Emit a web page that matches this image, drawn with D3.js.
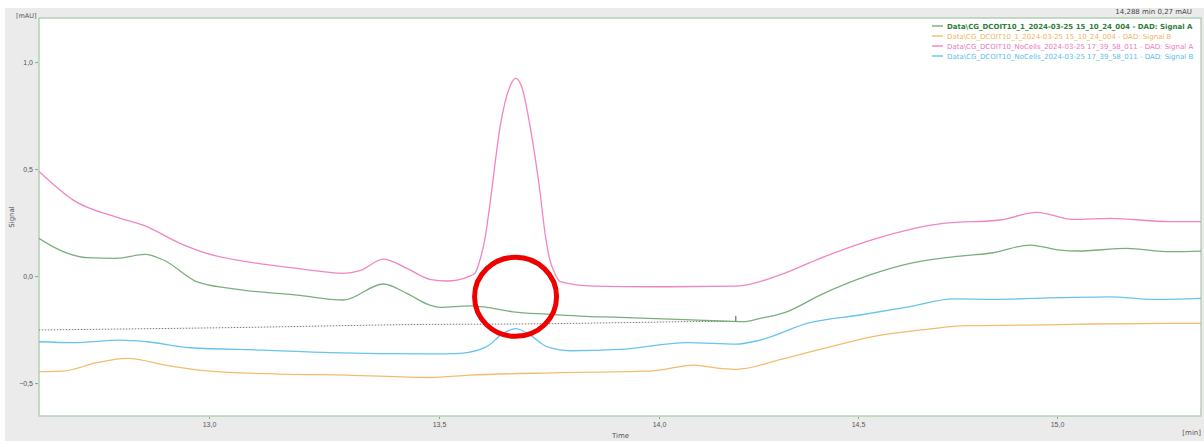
<!DOCTYPE html>
<html>
<head>
<meta charset="utf-8">
<script src="https://cdn.jsdelivr.net/npm/d3@7"></script>
<style>
  body { margin: 0; background: #fff; }
  svg { display: block; font-family: "DejaVu Sans", sans-serif; }
</style>
</head>
<body>
<div id="chart"></div>
<script>
// chromatogram overlay, values (time in min, signal in mAU)
const greenA = [
  [12.630, 0.176], [12.683, 0.114], [12.734, 0.086], [12.799, 0.083], [12.861, 0.101],
  [12.901, 0.075], [12.973, -0.026], [13.046, -0.058], [13.191, -0.089], [13.292, -0.112],
  [13.379, -0.037], [13.430, -0.081], [13.480, -0.136], [13.502, -0.146], [13.570, -0.139],
  [13.608, -0.146], [13.669, -0.167], [13.745, -0.178], [13.820, -0.187], [13.911, -0.193],
  [14.028, -0.201], [14.153, -0.210], [14.212, -0.213], [14.254, -0.198], [14.321, -0.167],
  [14.405, -0.089], [14.530, 0.005], [14.631, 0.059], [14.739, 0.090], [14.840, 0.109],
  [14.932, 0.145], [15.008, 0.121], [15.050, 0.117], [15.175, 0.129], [15.284, 0.114],
  [15.362, 0.117]
];
const orangeB = [
  [12.630, -0.447], [12.683, -0.444], [12.756, -0.405], [12.821, -0.385], [12.915, -0.420],
  [12.995, -0.443], [13.154, -0.458], [13.299, -0.463], [13.480, -0.474], [13.570, -0.463],
  [13.760, -0.452], [13.987, -0.443], [14.086, -0.416], [14.153, -0.431], [14.195, -0.436],
  [14.304, -0.391], [14.405, -0.343], [14.547, -0.280], [14.673, -0.249], [14.773, -0.232],
  [14.924, -0.229], [15.091, -0.224], [15.362, -0.221]
];
const pinkA = [
  [12.630, 0.490], [12.705, 0.355], [12.807, 0.270], [12.857, 0.238], [12.937, 0.153],
  [12.995, 0.106], [13.082, 0.067], [13.191, 0.036], [13.292, 0.013], [13.328, 0.025],
  [13.379, 0.079], [13.430, 0.036], [13.480, -0.015], [13.518, -0.023], [13.570, 0.000],
  [13.582, 0.014], [13.593, 0.075], [13.605, 0.180], [13.616, 0.340], [13.639, 0.700],
  [13.661, 0.885], [13.674, 0.924], [13.688, 0.885], [13.707, 0.700], [13.730, 0.386],
  [13.741, 0.200], [13.752, 0.075], [13.760, 0.028], [13.775, -0.026], [13.851, -0.047],
  [13.987, -0.050], [14.195, -0.047], [14.304, 0.005], [14.405, 0.083], [14.547, 0.176],
  [14.714, 0.246], [14.857, 0.262], [14.949, 0.298], [15.041, 0.265], [15.133, 0.270],
  [15.284, 0.254], [15.362, 0.254]
];
const blueB = [
  [12.630, -0.307], [12.705, -0.311], [12.807, -0.299], [12.865, -0.307], [12.959, -0.335],
  [13.118, -0.346], [13.263, -0.358], [13.480, -0.364], [13.548, -0.361], [13.608, -0.330],
  [13.646, -0.268], [13.674, -0.246], [13.707, -0.276], [13.745, -0.330], [13.798, -0.349],
  [13.911, -0.343], [14.070, -0.311], [14.195, -0.318], [14.254, -0.299], [14.379, -0.218],
  [14.505, -0.182], [14.631, -0.143], [14.739, -0.107], [14.840, -0.109], [15.008, -0.101],
  [15.133, -0.097], [15.242, -0.109], [15.362, -0.104]
];
const baseline = [
  [12.630, -0.252], [13.046, -0.241], [13.480, -0.226], [13.684, -0.224],
  [13.911, -0.218], [14.153, -0.212], [14.193, -0.212]
];
const baselineMark = [14.193, -0.186, -0.213];
const circleAt = [13.674, -0.097];

const seriesNames = [
  "Data\\CG_DCOIT10_1_2024-03-25 15_10_24_004 - DAD: Signal A",
  "Data\\CG_DCOIT10_1_2024-03-25 15_10_24_004 - DAD: Signal B",
  "Data\\CG_DCOIT10_NoCells_2024-03-25 17_39_58_011 - DAD: Signal A",
  "Data\\CG_DCOIT10_NoCells_2024-03-25 17_39_58_011 - DAD: Signal B"
];
const seriesColors = ["#6da56d", "#f0b55e", "#ee78bb", "#58bdec"];
const xTicks = [13.0, 13.5, 14.0, 14.5, 15.0];
const yTicks = [1.0, 0.5, 0.0, -0.5];
const cursorText = "14,288 min  0,27 mAU";

const W = 1204, H = 441;
const plot = { left: 39, top: 18, right: 1201, bottom: 416 };
const comma = v => d3.format(".1f")(v).replace(".", ",");

const svg = d3.select("#chart").append("svg")
  .attr("width", W).attr("height", H);

svg.append("rect").attr("x", 5).attr("y", 8).attr("width", W - 5).attr("height", H - 8)
  .attr("fill", "#ebebeb");
svg.append("rect").attr("x", plot.left).attr("y", plot.top)
  .attr("width", plot.right - plot.left).attr("height", plot.bottom - plot.top)
  .attr("fill", "#fff").attr("stroke", "#b6d0b6").attr("stroke-width", 1.5);

// the time axis in the screenshot is not evenly spaced, so map it piecewise
const x = d3.scaleLinear()
  .domain(xTicks)
  .range([209, 439, 659, 858, 1057]);
const y = d3.scaleLinear()
  .domain([-0.654, 1.206])
  .range([plot.bottom, plot.top]);

const xAxis = svg.append("g")
  .attr("transform", `translate(0,${plot.bottom + 1})`)
  .call(d3.axisBottom(x).tickValues(xTicks).tickFormat(comma).tickSize(2).tickPadding(3));
xAxis.select(".domain").remove();
xAxis.selectAll("line").attr("stroke", "#7fb07f");
xAxis.selectAll("text").attr("fill", "#555").style("font-size", "7px");

const yAxis = svg.append("g")
  .attr("transform", `translate(${plot.left - 1},0)`)
  .call(d3.axisLeft(y).tickValues(yTicks).tickFormat(comma).tickSize(3).tickPadding(2));
yAxis.select(".domain").remove();
yAxis.selectAll("line").attr("stroke", "#7fb07f");
yAxis.selectAll("text").attr("fill", "#555").style("font-size", "7px");

svg.append("clipPath").attr("id", "clip").append("rect")
  .attr("x", plot.left).attr("y", plot.top)
  .attr("width", plot.right - plot.left).attr("height", plot.bottom - plot.top);

const line = d3.line()
  .x(d => x(d[0]))
  .y(d => y(d[1]))
  .curve(d3.curveMonotoneX);

const g = svg.append("g").attr("clip-path", "url(#clip)");

g.append("path").datum(baseline)
  .attr("d", line)
  .attr("fill", "none").attr("stroke", "#777").attr("stroke-width", 1)
  .attr("stroke-dasharray", "1.5,1.5");
g.append("line")
  .attr("x1", x(baselineMark[0])).attr("x2", x(baselineMark[0]))
  .attr("y1", y(baselineMark[1])).attr("y2", y(baselineMark[2]))
  .attr("stroke", "#555").attr("stroke-width", 1);

[greenA, orangeB, pinkA, blueB].forEach((s, i) => {
  g.append("path").datum(s)
    .attr("d", line)
    .attr("fill", "none")
    .attr("stroke", seriesColors[i])
    .attr("stroke-width", 1.3)
    .attr("stroke-opacity", 0.9);
});

// red annotation ring
svg.append("ellipse")
  .attr("cx", x(circleAt[0])).attr("cy", y(circleAt[1]))
  .attr("rx", 41).attr("ry", 39.5)
  .attr("fill", "none").attr("stroke", "#ee0000").attr("stroke-width", 5);

// legend
const legend = svg.append("g").attr("transform", "translate(932,26)");
seriesNames.forEach((name, i) => {
  const row = legend.append("g").attr("transform", `translate(0,${i * 10})`);
  row.append("line").attr("x1", 0).attr("x2", 11).attr("y1", 0).attr("y2", 0)
    .attr("stroke", seriesColors[i]).attr("stroke-width", 1.3);
  row.append("text").attr("x", 15).attr("y", 2.5)
    .text(name)
    .attr("fill", i === 0 ? "#2f7d3a" : seriesColors[i])
    .style("font-size", "7px")
    .style("font-weight", i === 0 ? "bold" : "normal");
});

svg.append("text").attr("x", 1192).attr("y", 14).attr("text-anchor", "end")
  .text(cursorText).attr("fill", "#444").style("font-size", "7px");
svg.append("text").attr("x", 16).attr("y", 18)
  .text("[mAU]").attr("fill", "#555").style("font-size", "6.5px");
svg.append("text").attr("x", 612).attr("y", 438)
  .text("Time").attr("fill", "#555").style("font-size", "7px");
svg.append("text").attr("x", 1201).attr("y", 435).attr("text-anchor", "end")
  .text("[min]").attr("fill", "#555").style("font-size", "7px");
svg.append("text")
  .attr("transform", "translate(14,217) rotate(-90)")
  .attr("text-anchor", "middle")
  .text("Signal").attr("fill", "#555").style("font-size", "7px");
</script>
</body>
</html>
